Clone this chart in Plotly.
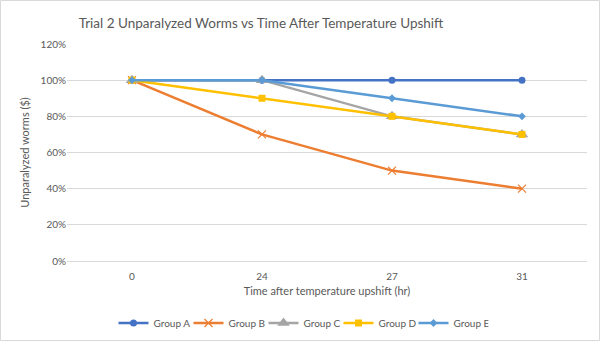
import plotly.graph_objects as go

times = ["0", "24", "27", "31"]
group_a = [1.00, 1.00, 1.00, 1.00]
group_b = [1.00, 0.70, 0.50, 0.40]
group_c = [1.00, 1.00, 0.80, 0.70]
group_d = [1.00, 0.90, 0.80, 0.70]
group_e = [1.00, 1.00, 0.90, 0.80]

series = [
    ("Group A", group_a, "#4472C4", dict(symbol="circle", size=7)),
    ("Group B", group_b, "#ED7D31", dict(symbol="x-thin-open", size=8, line=dict(width=1.2, color="#ED7D31"))),
    ("Group C", group_c, "#A5A5A5", dict(symbol="triangle-up", size=11)),
    ("Group D", group_d, "#FFC000", dict(symbol="square", size=7)),
    ("Group E", group_e, "#5B9BD5", dict(symbol="diamond", size=6)),
]

fig = go.Figure()
for name, vals, color, marker in series:
    fig.add_trace(go.Scatter(
        x=times, y=vals, name=name, mode="lines+markers",
        line=dict(color=color, width=2.5),
        marker=dict(color=color, **marker),
    ))

W, H = 600, 341
L, R, T, B = 67, 13, 44, 80
PW, PH = W - L - R, H - T - B

font_family = "Lato, 'Open Sans', sans-serif"
fig.update_layout(
    width=W, height=H,
    margin=dict(l=L, r=R, t=T, b=B, autoexpand=False),
    paper_bgcolor="white", plot_bgcolor="white",
    font=dict(family=font_family, color="#595959", size=10),
    title=dict(text="Trial 2 Unparalyzed Worms vs Time After Temperature Upshift",
               xref="container", x=261 / W, xanchor="center",
               yref="container", y=1 - 23 / H, yanchor="middle",
               font=dict(size=13.5, color="#595959", family=font_family)),
    xaxis=dict(type="category", range=[-0.5, 3.5], showgrid=False,
               showline=False, ticks="", ticklabelstandoff=8,
               tickfont=dict(size=10, color="#595959"),
               title=dict(text="Time after temperature upshift (hr)", standoff=6,
                          font=dict(size=11, color="#595959"))),
    yaxis=dict(range=[0, 1.2], dtick=0.2, tickformat=".0%",
               gridcolor="#D9D9D9", gridwidth=1, zeroline=True,
               zerolinecolor="#D9D9D9", zerolinewidth=1, showline=False,
               tickfont=dict(size=10, color="#595959"),
               title=dict(text="Unparalyzed worms ($)", standoff=8,
                          font=dict(size=11, color="#595959"))),
    legend=dict(orientation="h", x=(301 - L) / PW, xanchor="center",
                y=-(323 - (T + PH)) / PH, yanchor="middle",
                font=dict(size=10, color="#595959"), itemwidth=30,
                entrywidth=30, entrywidthmode="pixels",
                traceorder="normal"),
    showlegend=True,
)

# light frame around the whole chart
fig.add_shape(type="rect", xref="paper", yref="paper",
              x0=-(L - 0.5) / PW, x1=1 + (R - 0.5) / PW,
              y0=-(B - 0.5) / PH, y1=1 + (T - 0.5) / PH,
              line=dict(color="#D9D9D9", width=1), fillcolor="rgba(0,0,0,0)")

fig.write_html("out.html")
